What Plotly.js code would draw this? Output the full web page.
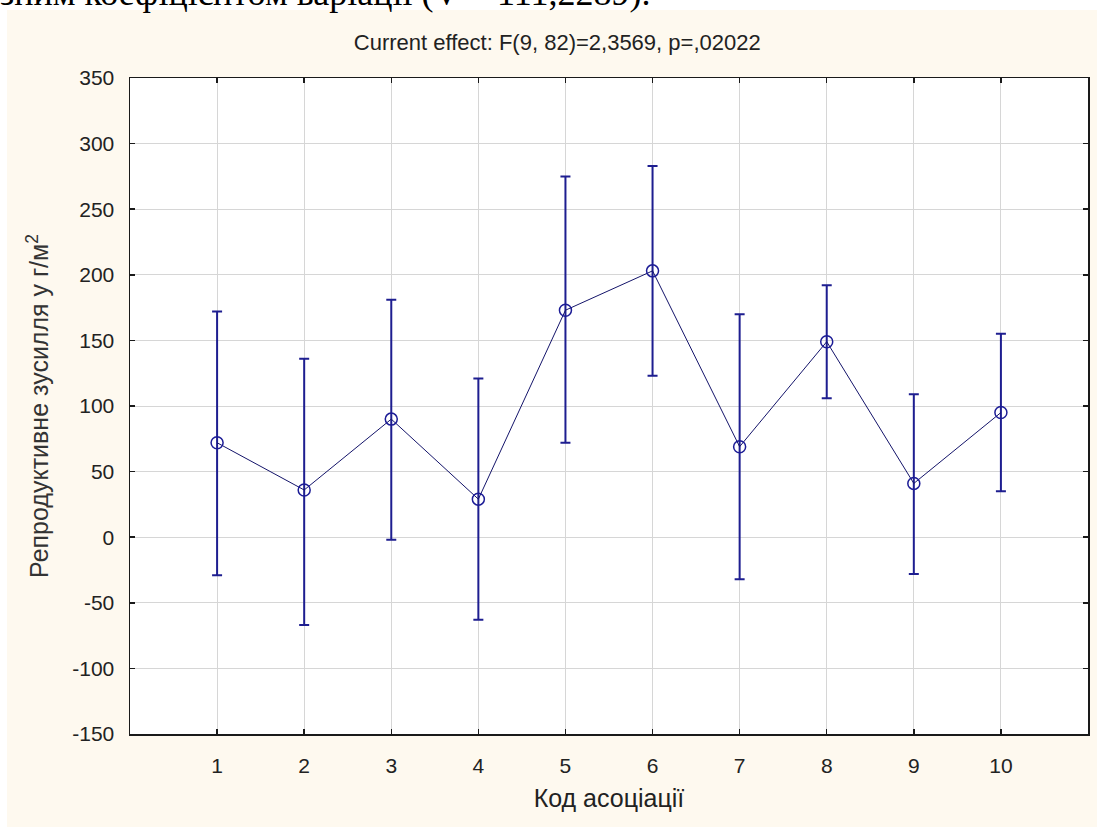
<!DOCTYPE html>
<html>
<head>
<meta charset="utf-8">
<script src="https://cdn.plot.ly/plotly-3.0.1.min.js"></script>
<style>html,body{margin:0;padding:0;background:#fff;}#chart{width:1097px;height:830px;}</style>
</head>
<body>
<div id="chart"></div>
<script>
const codes = [1, 2, 3, 4, 5, 6, 7, 8, 9, 10];
const means = [72, 36, 90, 29, 173, 203, 69, 149, 41, 95];
const ciUpper = [172, 136, 181, 121, 275, 283, 170, 192, 109, 155];
const ciLower = [-29, -67, -2, -63, 72, 123, -32, 106, -28, 35];
const xTicks = [1, 2, 3, 4, 5, 6, 7, 8, 9, 10];
const yTicks = [-150, -100, -50, 0, 50, 100, 150, 200, 250, 300, 350];

const plusErr = means.map((m, i) => ciUpper[i] - m);
const minusErr = means.map((m, i) => m - ciLower[i]);

const W = 1097, H = 830, L = 130, R = 9, T = 78, B = 96;
const pw = W - L - R, ph = H - T - B;
const px2x = p => (p - L) / pw;
const py2y = p => 1 - (p - T) / ph;

const trace = {
  x: codes, y: means, type: 'scatter', mode: 'lines+markers',
  line: {color: '#14146a', width: 1},
  marker: {symbol: 'circle-open', size: 12, color: '#1c1c96', line: {width: 1.5, color: '#1c1c96'}},
  error_y: {type: 'data', symmetric: false, array: plusErr, arrayminus: minusErr,
            color: '#1e1e90', thickness: 2, width: 5},
  showlegend: false, hoverinfo: 'x+y'
};

const fontF = '"Liberation Sans", Arial, sans-serif';
const layout = {
  width: W, height: H,
  margin: {l: L, r: R, t: T, b: B, pad: 0},
  paper_bgcolor: '#fef9ef', plot_bgcolor: '#ffffff',
  font: {family: fontF, color: '#222'},
  title: {text: 'Current effect: F(9, 82)=2,3569, p=,02022', font: {size: 22, family: fontF, color: '#222'},
          x: 0.508, xref: 'container', xanchor: 'center', y: 1 - 42 / H, yref: 'container', yanchor: 'middle'},
  xaxis: {
    range: [0, 11], tickvals: xTicks, ticktext: xTicks.map(String),
    showgrid: true, gridcolor: '#d6d6d6', gridwidth: 1, zeroline: false,
    showline: true, linecolor: '#1a1a1a', linewidth: 1.5, mirror: 'ticks',
    ticks: 'inside', ticklen: 5, tickcolor: '#1a1a1a', tickwidth: 1.5,
    tickfont: {size: 21, family: fontF, color: '#222'}, ticklabelstandoff: 12,
    title: {text: 'Код асоціації', font: {size: 25, family: fontF, color: '#222'}, standoff: 14}
  },
  yaxis: {
    range: [-150, 350], tickvals: yTicks, ticktext: yTicks.map(String),
    showgrid: true, gridcolor: '#d6d6d6', gridwidth: 1, zeroline: false,
    showline: true, linecolor: '#1a1a1a', linewidth: 1.5, mirror: 'ticks',
    ticks: 'inside', ticklen: 5, tickcolor: '#1a1a1a', tickwidth: 1.5,
    tickfont: {size: 21, family: fontF, color: '#222'}, ticklabelstandoff: 10,
    title: {text: 'Репродуктивне зусилля у г/м<sup>2</sup>', font: {size: 25, family: fontF, color: '#333'}, standoff: 16}
  },
  shapes: [
    {type: 'rect', xref: 'paper', yref: 'paper', layer: 'above', x0: -0.3, x1: 1.3, y0: py2y(10), y1: py2y(-5), fillcolor: '#ffffff', line: {width: 0}},
    {type: 'rect', xref: 'paper', yref: 'paper', layer: 'above', x0: px2x(-5), x1: px2x(7), y0: py2y(835), y1: py2y(-5), fillcolor: '#ffffff', line: {width: 0}},
    {type: 'rect', xref: 'paper', yref: 'paper', layer: 'above', x0: -0.3, x1: 1.3, y0: py2y(835), y1: py2y(827), fillcolor: '#ffffff', line: {width: 0}}
  ],
  annotations: [
    {text: 'зним коефіцієнтом варіації (V = 111,2289).', xref: 'paper', yref: 'paper',
     x: px2x(-2), y: py2y(15), xanchor: 'left', yanchor: 'bottom', showarrow: false,
     font: {family: '"Liberation Serif", "Times New Roman", serif', size: 36, color: '#000'}}
  ]
};

Plotly.newPlot('chart', [trace], layout, {displayModeBar: false, staticPlot: true});
</script>
</body>
</html>
